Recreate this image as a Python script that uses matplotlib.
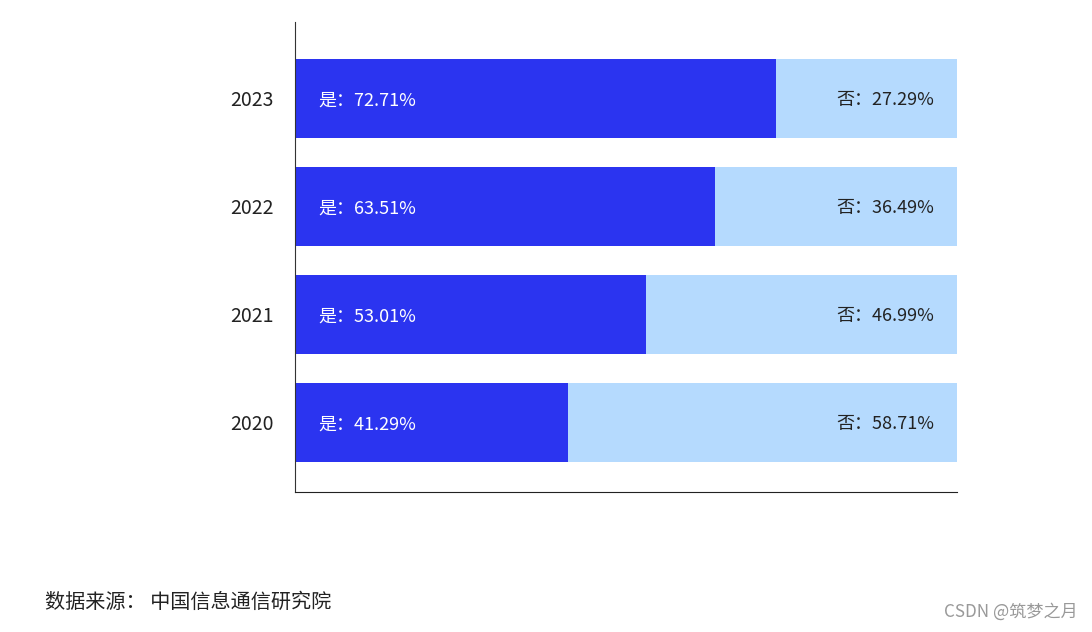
import matplotlib.pyplot as plt

plt.rcParams['font.family'] = ['Noto Sans CJK SC', 'DejaVu Sans']

years = ['2020', '2021', '2022', '2023']
yes_pct = [41.29, 53.01, 63.51, 72.71]
no_pct = [58.71, 46.99, 36.49, 27.29]

c_yes = '#2b34f0'
c_no = '#b5dafe'

fig = plt.figure(figsize=(10.92, 6.32), dpi=100)
ax = fig.add_axes([295 / 1092, 1 - 492 / 632, 662 / 1092, 470 / 632])

pos = list(range(len(years)))
ax.barh(pos, yes_pct, height=0.73, color=c_yes)
ax.barh(pos, no_pct, left=yes_pct, height=0.73, color=c_no)

for i, (y, n) in enumerate(zip(yes_pct, no_pct)):
    ax.text(3.5, i, f'是：{y:.2f}%', color='white', fontsize=13,
            ha='left', va='center_baseline')
    ax.text(96.6, i, f'否：{n:.2f}%', color='#222222', fontsize=13,
            ha='right', va='center_baseline')

ax.set_xlim(0, 100)
ax.set_ylim(-0.644, 3.708)
ax.set_yticks(pos)
ax.set_yticklabels(years, fontsize=14, color='#222222', va='center_baseline')
ax.tick_params(axis='y', length=0, pad=15.5)
ax.set_xticks([])
ax.spines['top'].set_visible(False)
ax.spines['right'].set_visible(False)
ax.spines['left'].set_color('#333333')
ax.spines['bottom'].set_color('#222222')

fig.text(45 / 1092, 1 - 602 / 632, '数据来源： 中国信息通信研究院', fontsize=14.5,
         color='#222222', ha='left', va='center')
fig.text(1078 / 1092, 1 - 612 / 632, 'CSDN @筑梦之月', fontsize=12.3,
         color='#999999', ha='right', va='center')

fig.savefig('out.png', dpi=100)
